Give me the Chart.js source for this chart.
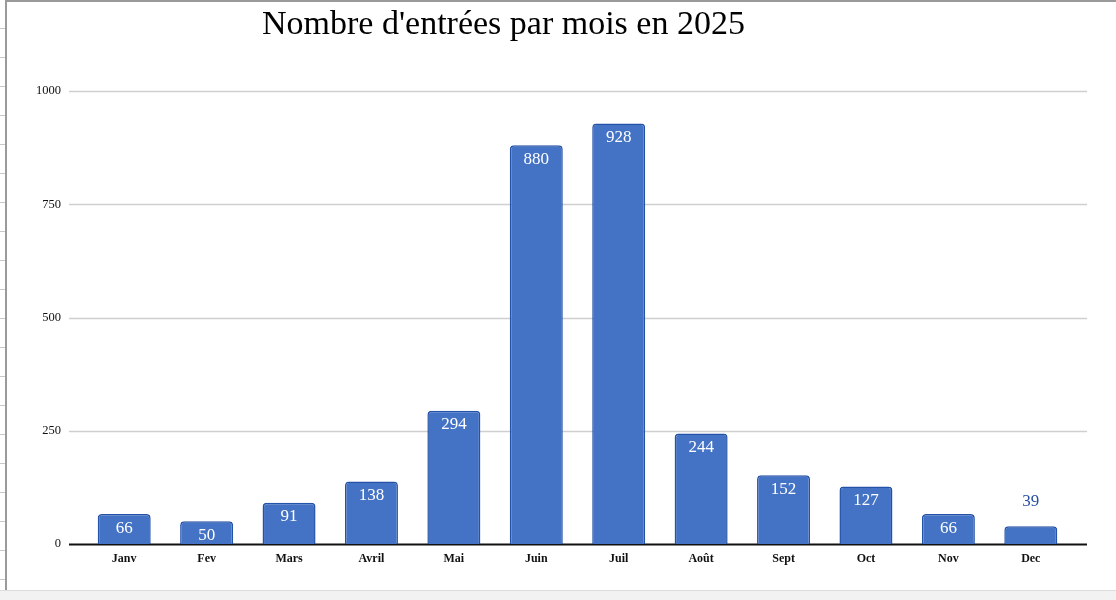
<!DOCTYPE html>
<html>
<head>
<meta charset="utf-8">
<script src="https://cdn.jsdelivr.net/npm/chart.js@4.4.1/dist/chart.umd.min.js"></script>
<style>
  body { margin: 0; background: #fff; }
  #wrap { position: relative; width: 1116px; height: 600px; overflow: hidden; }
  #rows {
    position: absolute; left: 0; top: 0; width: 5px; height: 590px;
    background: repeating-linear-gradient(to bottom, transparent 0, transparent 28px, #c8c8c8 28px, #c8c8c8 29px);
  }
  #edge { position: absolute; left: 5px; top: 0; width: 2px; height: 590px; background: #9a9a9a; }
  #topline { position: absolute; left: 5px; top: 0; right: 0; height: 2px; background: #9a9a9a; }
  #foot { position: absolute; left: 0; right: 0; top: 590px; bottom: 0; background: #f2f2f2; border-top: 1px solid #dcdcdc; }
  #titre {
    position: absolute; left: 262px; top: 4px;
    font-family: "Liberation Serif", "DejaVu Serif", serif; font-size: 34px; color: #000;
    white-space: nowrap;
  }
  canvas { position: absolute; left: 0; top: 0; }
</style>
</head>
<body>
<div id="wrap">
  <canvas id="chartMois" width="1116" height="600"></canvas>
  <div id="rows"></div>
  <div id="edge"></div>
  <div id="topline"></div>
  <div id="foot"></div>
  <div id="titre">Nombre d'entrées par mois en 2025</div>
</div>
<script>
const mois = ["Janv", "Fev", "Mars", "Avril", "Mai", "Juin", "Juil", "Août", "Sept", "Oct", "Nov", "Dec"];
const entrees = [66, 50, 91, 138, 294, 880, 928, 244, 152, 127, 66, 39];
const graduations = [0, 250, 500, 750, 1000];

const serif = '"Liberation Serif", "DejaVu Serif", serif';

// lignes de grille un peu plus larges que la zone des barres
const grillePlugin = {
  id: 'grille',
  beforeDatasetsDraw(chart) {
    const ctx = chart.ctx;
    const y = chart.scales.y;
    const area = chart.chartArea;
    ctx.save();
    graduations.forEach(v => {
      const py = Math.round(y.getPixelForValue(v)) + 0.5;
      ctx.beginPath();
      ctx.moveTo(area.left - 14, py);
      ctx.lineTo(area.right + 15, py);
      if (v === 0) {
        ctx.strokeStyle = '#111';
        ctx.lineWidth = 2;
      } else {
        ctx.strokeStyle = '#cfcfcf';
        ctx.lineWidth = 1.5;
      }
      ctx.stroke();
    });
    ctx.restore();
  }
};

// valeurs écrites dans les barres (au-dessus si la barre est trop petite)
const etiquettesPlugin = {
  id: 'etiquettes',
  afterDatasetsDraw(chart) {
    const ctx = chart.ctx;
    const meta = chart.getDatasetMeta(0);
    ctx.save();
    ctx.font = '17px ' + serif;
    ctx.textAlign = 'center';
    ctx.textBaseline = 'middle';
    meta.data.forEach((bar, i) => {
      const h = bar.base - bar.y;
      if (h > 20) {
        ctx.fillStyle = '#ffffff';
        ctx.fillText(String(entrees[i]), bar.x, bar.y + 14);
      } else {
        ctx.fillStyle = '#2b50a3';
        ctx.fillText(String(entrees[i]), bar.x, bar.y - 25);
      }
    });
    ctx.restore();
  }
};

const chartMois = new Chart(document.getElementById('chartMois'), {
  type: 'bar',
  data: {
    labels: mois,
    datasets: [{
      label: 'Entrées',
      data: entrees,
      backgroundColor: '#4472c4',
      borderColor: '#2452a8',
      borderWidth: 1.5,
      borderSkipped: 'bottom',
      borderRadius: { topLeft: 4, topRight: 4 },
      categoryPercentage: 1,
      barPercentage: 0.643
    }]
  },
  options: {
    responsive: false,
    animation: false,
    layout: { padding: { top: 91, right: 44, bottom: 0, left: 0 } },
    plugins: {
      legend: { display: false },
      title: { display: false },
      tooltip: { enabled: false }
    },
    scales: {
      x: {
        grid: { display: false },
        border: { display: false },
        ticks: {
          padding: 0,
          color: '#111',
          font: { family: serif, size: 12, weight: 'bold' }
        },
        afterFit(scale) { scale.height = 56; }
      },
      y: {
        min: 0,
        max: 1000,
        grid: { display: false },
        border: { display: false },
        afterBuildTicks(scale) { scale.ticks = graduations.map(v => ({ value: v })); },
        ticks: {
          padding: 14,
          color: '#111',
          font: { family: serif, size: 12.5 },
          callback: v => String(v)
        },
        afterFit(scale) { scale.width = 83; }
      }
    }
  },
  plugins: [grillePlugin, etiquettesPlugin]
});
</script>
</body>
</html>
